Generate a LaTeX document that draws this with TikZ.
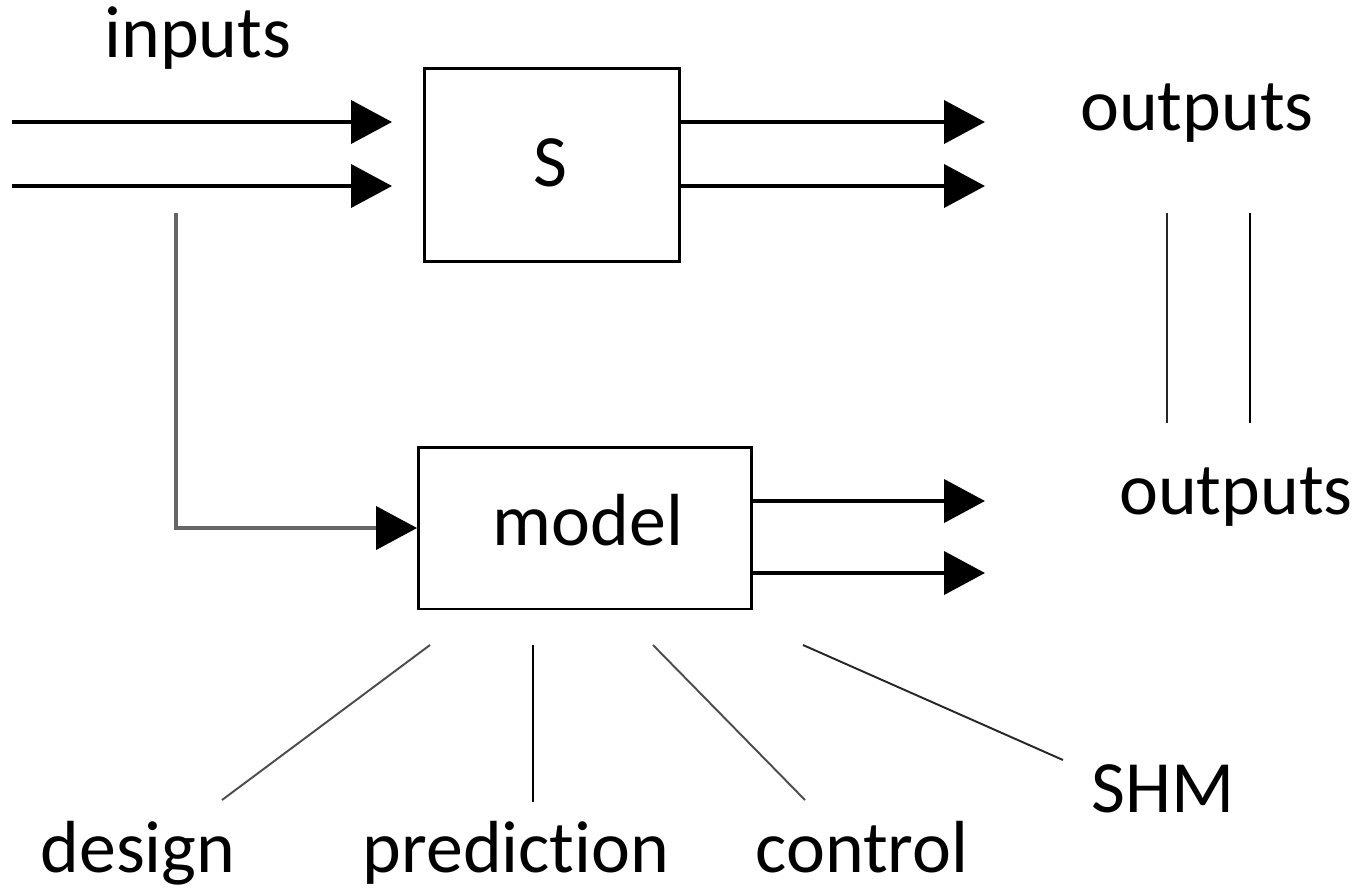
\documentclass[tikz,border=0pt]{standalone}
\usepackage{fontspec}
\setmainfont{Carlito}[Ligatures=NoCommon]
\usepackage{tikz}
\usetikzlibrary{arrows.meta,positioning}

\begin{document}
\begin{tikzpicture}[x=0.02cm, y=-0.02cm]
\tikzstyle{every node} = [font=\fontsize{42}{50}\selectfont, inner sep=0cm]
\tikzstyle{block} = [draw, line width=1.7pt, fill=white]
\tikzstyle{sig} = [line width=2.3pt, -{Triangle[length=0.82cm, width=0.86cm, color=black]}]
\tikzstyle{link} = [line width=1.1pt]
\useasboundingbox (0,0) rectangle (1361,890);
% the system and its model
\node[block, minimum width=5.1cm, minimum height=3.88cm] (S) at (552,165) {};
\node[anchor=base] (Slab) at (550,186) {S};
\node[block, minimum width=6.66cm, minimum height=3.24cm] (model) at (585,528) {};
\node[anchor=base] (modellab) at (588,545) {model};
\node[anchor=base] (inputs) at (198,57) {inputs};
\node[anchor=base] (outS) at (1197,130) {outputs};
\node[anchor=base] (outM) at (1236,514) {outputs};
\node[anchor=base] (design) at (138,872) {design};
\node[anchor=base] (pred) at (516,872) {prediction};
\node[anchor=base] (ctrl) at (862,872) {control};
\node[anchor=base] (shm) at (1163,812) {SHM};
% free ends
\coordinate (ia) at (12,122);
\coordinate (iae) at (392,122);
\coordinate (ib) at (12,186);
\coordinate (ibe) at (392,186);
\coordinate (oae) at (985,122);
\coordinate (obe) at (985,186);
\coordinate (mae) at (985,501);
\coordinate (mbe) at (985,573);
\coordinate (tap) at (176,213);
\coordinate (ca) at (1167,213);
\coordinate (cae) at (1167,423);
\coordinate (cb) at (1250,213);
\coordinate (cbe) at (1250,423);
\coordinate (d1) at (430,645);
\coordinate (d1e) at (222,800);
\coordinate (d2) at (533,645);
\coordinate (d2e) at (533,802);
\coordinate (d3) at (653,645);
\coordinate (d3e) at (805,800);
\coordinate (d4) at (803,645);
\coordinate (d4e) at (1063,760);
% signals
\draw[sig] (ia) -- (iae);
\draw[sig] (ib) -- (ibe);
\draw[sig] (S.east |- oae) -- (oae);
\draw[sig] (S.east |- obe) -- (obe);
\draw[sig] (model.east |- mae) -- (mae);
\draw[sig] (model.east |- mbe) -- (mbe);
\draw[sig, black!60] (tap) |- (model.west);
% comparison of outputs
\draw[line width=1.6pt, black!85] (ca) -- (cae);
\draw[line width=1.4pt] (cb) -- (cbe);
% uses of the model
\draw[link, black!70] (d1) -- (d1e);
\draw[link] (d2) -- (d2e);
\draw[link, black!70] (d3) -- (d3e);
\draw[link, black!85] (d4) -- (d4e);
\end{tikzpicture}
\end{document}
